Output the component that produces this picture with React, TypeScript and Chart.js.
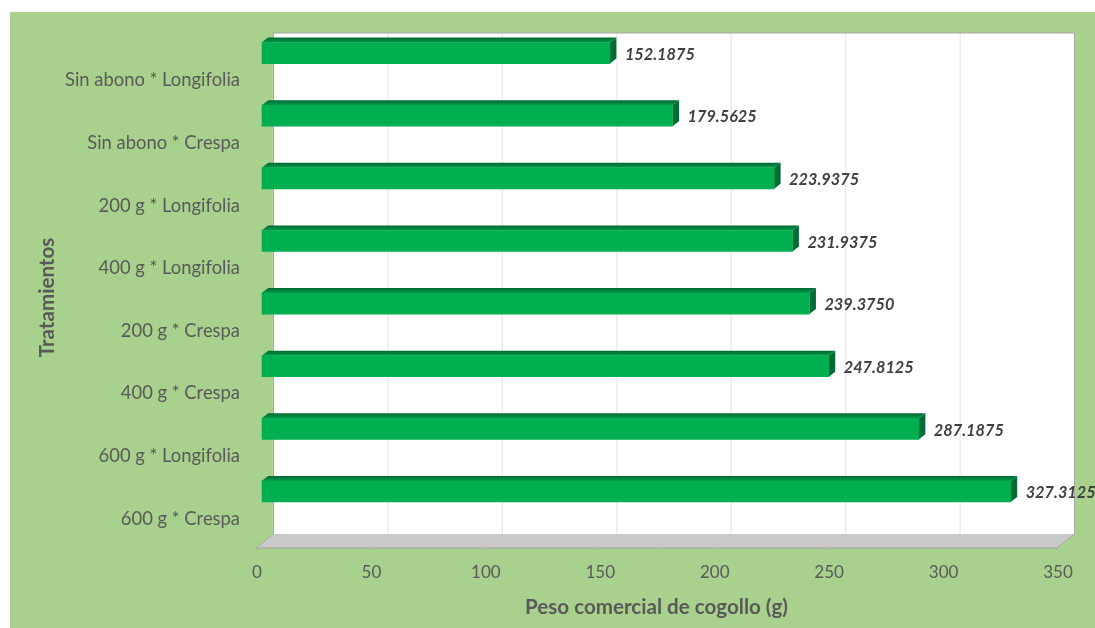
import React, { useEffect, useRef } from "react";
import { Chart, registerables } from "chart.js";

Chart.register(...registerables);

const categories = [
  "Sin abono * Longifolia",
  "Sin abono * Crespa",
  "200 g * Longifolia",
  "400 g * Longifolia",
  "200 g * Crespa",
  "400 g * Crespa",
  "600 g * Longifolia",
  "600 g * Crespa",
];
const pesoValues = [152.1875, 179.5625, 223.9375, 231.9375, 239.375, 247.8125, 287.1875, 327.3125];
const labelTexts = ["152.1875", "179.5625", "223.9375", "231.9375", "239.3750", "247.8125", "287.1875", "327.3125"];
const xTicks = [0, 50, 100, 150, 200, 250, 300, 350];

const FONT = "Lato, Carlito, sans-serif";
const TEXT = "#595959";
const PAGE_GREEN = "#A9D18E";

// 3D projection look
const WALL_DX = 17.5;
const WALL_DY = 14;
const BAR_SHIFT_X = 5.6;
const BAR_SHIFT_Y = -25.2;
const BAR_DX = 6.5;
const BAR_DY = 5;

const scene = {
  id: "scene",
  beforeDraw(chart: any) {
    const { ctx, width, height } = chart;
    ctx.save();
    ctx.fillStyle = "#ffffff";
    ctx.fillRect(0, 0, width, height);
    ctx.fillStyle = PAGE_GREEN;
    ctx.fillRect(10, 12, width - 10, height - 12);
    ctx.restore();
  },
  beforeDatasetsDraw(chart: any) {
    const { ctx, chartArea: a, scales } = chart;
    const top = a.top - WALL_DY;
    const backBottom = a.bottom - WALL_DY;
    ctx.save();
    // back wall
    ctx.fillStyle = "#ffffff";
    ctx.fillRect(a.left + WALL_DX, top, a.right - a.left, backBottom - top);
    // floor
    ctx.fillStyle = "#c9c9c9";
    ctx.beginPath();
    ctx.moveTo(a.left, a.bottom);
    ctx.lineTo(a.right, a.bottom);
    ctx.lineTo(a.right + WALL_DX, backBottom);
    ctx.lineTo(a.left + WALL_DX, backBottom);
    ctx.closePath();
    ctx.fill();
    // grid lines
    ctx.lineWidth = 1.2;
    scales.x.ticks.forEach((t: any) => {
      const x = scales.x.getPixelForValue(t.value) + WALL_DX;
      ctx.strokeStyle = "#e8e8e8";
      ctx.beginPath();
      ctx.moveTo(x, top);
      ctx.lineTo(x, backBottom);
      ctx.stroke();
      ctx.strokeStyle = "#a6a6a6";
      ctx.beginPath();
      ctx.moveTo(x - WALL_DX, a.bottom);
      ctx.lineTo(x - WALL_DX, a.bottom + 1.5);
      ctx.stroke();
    });
    // wall outline
    ctx.strokeStyle = "#a6a6a6";
    ctx.lineWidth = 1;
    ctx.beginPath();
    ctx.moveTo(a.left + WALL_DX, backBottom);
    ctx.lineTo(a.left + WALL_DX, top);
    ctx.lineTo(a.right + WALL_DX, top);
    ctx.lineTo(a.right + WALL_DX, backBottom);
    ctx.lineTo(a.right, a.bottom);
    ctx.lineTo(a.left, a.bottom);
    ctx.lineTo(a.left + WALL_DX, backBottom);
    ctx.stroke();
    ctx.restore();
  },
  beforeDatasetDraw(chart: any) {
    const { ctx } = chart;
    ctx.save();
    ctx.translate(BAR_SHIFT_X, BAR_SHIFT_Y);
    const meta = chart.getDatasetMeta(0);
    meta.data.forEach((bar: any) => {
      const h = bar.height;
      const x0 = bar.base;
      const x1 = bar.x;
      const yTop = bar.y - h / 2;
      const yBot = bar.y + h / 2;
      // top face
      const g = ctx.createLinearGradient(0, yTop - BAR_DY, 0, yTop);
      g.addColorStop(0, "#006a34");
      g.addColorStop(1, "#009a48");
      ctx.fillStyle = g;
      ctx.beginPath();
      ctx.moveTo(x0, yTop);
      ctx.lineTo(x0 + BAR_DX, yTop - BAR_DY);
      ctx.lineTo(x1 + BAR_DX, yTop - BAR_DY);
      ctx.lineTo(x1, yTop);
      ctx.closePath();
      ctx.fill();
      // right face
      ctx.fillStyle = "#006b35";
      ctx.beginPath();
      ctx.moveTo(x1, yTop);
      ctx.lineTo(x1 + BAR_DX, yTop - BAR_DY);
      ctx.lineTo(x1 + BAR_DX, yBot - BAR_DY);
      ctx.lineTo(x1, yBot);
      ctx.closePath();
      ctx.fill();
    });
  },
  afterDatasetDraw(chart: any) {
    const { ctx } = chart;
    const meta = chart.getDatasetMeta(0);
    ctx.font = `italic 700 16.3px ${FONT}`;
    ctx.fillStyle = "#404040";
    ctx.textAlign = "left";
    ctx.textBaseline = "middle";
    meta.data.forEach((bar: any, i: number) => {
      ctx.fillText(labelTexts[i], bar.x + BAR_DX + 8.5, bar.y + 1.5);
    });
    ctx.restore();
  },
};

export default function App() {
  const ref = useRef<HTMLCanvasElement | null>(null);
  useEffect(() => {
    const chart = new Chart(ref.current as HTMLCanvasElement, {
      type: "bar",
      data: {
        labels: categories,
        datasets: [
          {
            data: pesoValues,
            backgroundColor: "#00B050",
            borderWidth: 0,
            barThickness: 21,
          },
        ],
      },
      options: {
        indexAxis: "y",
        responsive: false,
        animation: false,
        devicePixelRatio: 1,
        layout: { padding: { left: 35, right: 38, top: 47, bottom: 8 } },
        plugins: { legend: { display: false }, tooltip: { enabled: false } },
        scales: {
          x: {
            type: "linear",
            min: 0,
            max: 350,
            afterBuildTicks: (s: any) => {
              s.ticks = xTicks.map((value) => ({ value }));
            },
            afterFit: (s: any) => {
              s.height = 72;
            },
            grid: { display: false, drawTicks: false },
            border: { display: false },
            ticks: { color: TEXT, font: { family: FONT, size: 17 }, padding: 14, maxRotation: 0, labelOffset: 1 },
            title: {
              display: true,
              text: "Peso comercial de cogollo (g)",
              color: TEXT,
              font: { family: FONT, size: 20.6, weight: "bold" },
              padding: { top: 0, bottom: 0 },
            },
          },
          y: {
            type: "category",
            afterFit: (s: any) => {
              s.width = 221;
            },
            grid: { display: false, drawTicks: false },
            border: { display: false },
            ticks: { color: TEXT, font: { family: FONT, size: 18.4 }, padding: 16, labelOffset: 2 },
            title: {
              display: true,
              text: "Tratamientos",
              color: TEXT,
              font: { family: FONT, size: 20.6, weight: "bold" },
              padding: { top: 0, bottom: 0 },
            },
          },
        },
      },
      plugins: [scene],
    } as any);
    return () => chart.destroy();
  }, []);
  return (
    <div style={{ position: "fixed", left: 0, top: 0, width: 1095, height: 628 }}>
      <canvas ref={ref} width={1095} height={628} style={{ display: "block" }} />
    </div>
  );
}
